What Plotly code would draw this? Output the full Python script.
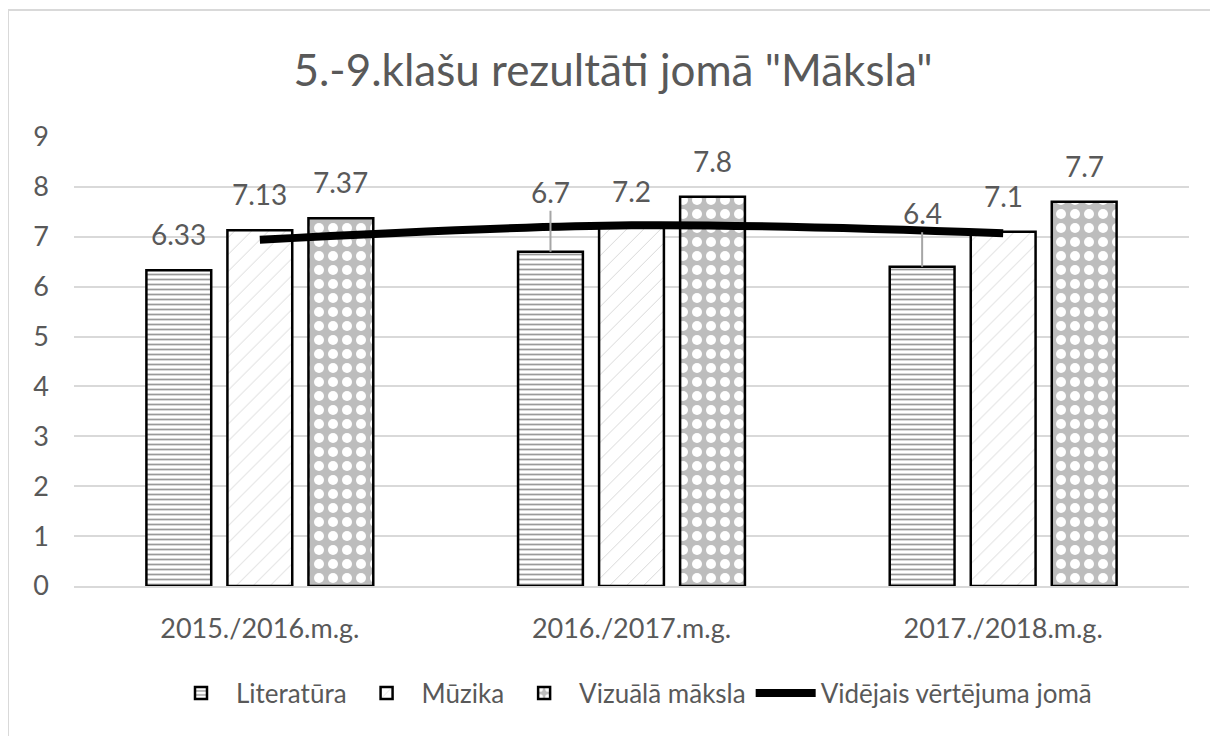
import plotly.graph_objects as go

categories = ["2015./2016.m.g.", "2016./2017.m.g.", "2017./2018.m.g."]
literatura = [6.33, 6.7, 6.4]
muzika = [7.13, 7.2, 7.1]
vizuala = [7.37, 7.8, 7.7]
videjais = [6.94, 7.23, 7.07]
series_names = ["Literatūra", "Mūzika", "Vizuālā māksla", "Vidējais vērtējuma jomā"]
label_texts = [["6.33", "6.7", "6.4"], ["7.13", "7.2", "7.1"], ["7.37", "7.8", "7.7"]]

# page body has an 8px margin, so the figure is drawn 8px in from the corner
W, H = 1210, 728
ML, MR, MT, MB = 66, 29, 129, 150
BARGAP = 0.346
GRAY = "#595959"
FONT = "Lato, Carlito, 'Open Sans', sans-serif"

fig = go.Figure()
fig.add_trace(go.Bar(
    name=series_names[0], x=categories, y=literatura,
    marker=dict(color="white", line=dict(color="black", width=2.5),
                pattern=dict(shape="-", fgcolor="#9a9a9a", bgcolor="white",
                             size=5, solidity=0.35, fillmode="replace")),
))
fig.add_trace(go.Bar(
    name=series_names[1], x=categories, y=muzika,
    marker=dict(color="white", line=dict(color="black", width=2.5),
                pattern=dict(shape="/", fgcolor="#d6d6d6", bgcolor="white",
                             size=12, solidity=0.08, fillmode="replace")),
))
fig.add_trace(go.Bar(
    name=series_names[2], x=categories, y=vizuala,
    marker=dict(color="#bfbfbf", line=dict(color="black", width=2.5),
                pattern=dict(shape=".", fgcolor="white", bgcolor="#bdbdbd",
                             size=14, solidity=0.4, fillmode="replace")),
))
fig.add_trace(go.Scatter(
    name=series_names[3], x=categories, y=videjais, mode="lines",
    line=dict(color="black", width=8, shape="spline"),
))

# data labels (two of them sit higher, joined to their bar by a leader line)
slot = (1 - BARGAP) / 3
series_vals = [literatura, muzika, vizuala]
leader_top = {(0, 1): 7.52, (0, 2): 7.09}
LBL = 28
for s, vals in enumerate(series_vals):
    off = (s - 1) * slot
    for i, v in enumerate(vals):
        if (s, i) in leader_top:
            fig.add_annotation(
                x=i + off, y=v, xref="x", yref="y", text=label_texts[s][i],
                showarrow=True, arrowhead=0, arrowwidth=2, arrowcolor="#a6a6a6",
                axref="x", ayref="y", ax=i + off, ay=leader_top[(s, i)],
                standoff=0, yanchor="bottom",
                font=dict(size=LBL, color=GRAY, family=FONT),
            )
        else:
            fig.add_annotation(
                x=i + off, y=v, xref="x", yref="y", text=label_texts[s][i],
                showarrow=False, yanchor="bottom", yshift=17,
                font=dict(size=LBL, color=GRAY, family=FONT),
            )

pw = W - ML - MR
ph = H - MT - MB
fig.add_shape(type="rect", xref="paper", yref="paper",
              x0=-ML / pw, x1=(W + 20 - ML) / pw,
              y0=-(MB + 20) / ph, y1=1 + (MT - 2) / ph,
              line=dict(color="#d9d9d9", width=2), layer="below")

fig.update_layout(
    width=W, height=H,
    margin=dict(l=ML, r=MR, t=MT, b=MB),
    paper_bgcolor="white", plot_bgcolor="white",
    barmode="group", bargap=BARGAP, bargroupgap=0.2,
    title=dict(text='5.-9.klašu rezultāti jomā "Māksla"', x=0.5, xanchor="center",
               y=1 - 63 / H, yanchor="middle",
               font=dict(size=44, color=GRAY, family=FONT)),
    font=dict(family=FONT, color=GRAY),
    showlegend=True,
    legend=dict(orientation="h", x=0.5, xanchor="center", y=-(685 - (H - MB)) / ph, yanchor="middle",
                font=dict(size=26, color=GRAY, family=FONT), itemwidth=60,
                traceorder="normal"),
    yaxis=dict(range=[0, 9], dtick=1, showgrid=True, gridcolor="#d9d9d9", gridwidth=1.5,
               zeroline=False, showline=False, ticks="", ticklen=0,
               tickfont=dict(size=27, color=GRAY, family=FONT), ticklabelstandoff=24),
    xaxis=dict(showline=True, linecolor="#d9d9d9", linewidth=1.5, ticks="",
               tickfont=dict(size=27, color=GRAY, family=FONT), ticklabelstandoff=18),
)

fig.write_html("out.html")
